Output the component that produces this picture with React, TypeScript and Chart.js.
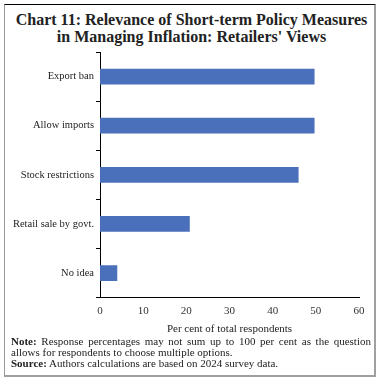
import React, { useEffect, useRef } from "react";
import { Chart, registerables } from "chart.js";

Chart.register(...registerables);

const categories = ["Export ban", "Allow imports", "Stock restrictions", "Retail sale by govt.", "No idea"];
const values = [49.7, 49.7, 46.0, 20.8, 4.0];
const xTicks = [0, 10, 20, 30, 40, 50, 60];

const SERIF = "'Liberation Serif', 'DejaVu Serif', serif";

export default function App() {
  const ref = useRef<HTMLCanvasElement | null>(null);

  useEffect(() => {
    document.body.style.margin = "0";
    const ctx = ref.current;
    if (!ctx) return;
    const chart = new Chart(ctx, {
      type: "bar",
      data: {
        labels: categories,
        datasets: [
          {
            data: values,
            backgroundColor: "#4a6fbb",
            borderWidth: 0,
            barPercentage: 0.64,
            categoryPercentage: 0.5,
          },
        ],
      },
      options: {
        indexAxis: "y",
        animation: false,
        responsive: false,
        maintainAspectRatio: false,
        layout: { padding: { left: 0, right: 24, top: 52, bottom: 0 } },
        plugins: { legend: { display: false }, tooltip: { enabled: false } },
        scales: {
          x: {
            min: 0,
            max: 60,
            afterBuildTicks: (s: any) => {
              s.ticks = xTicks.map((v) => ({ value: v }));
            },
            grid: { display: false, drawTicks: true, tickLength: 4, color: "#000" },
            border: { display: true, color: "#000", width: 1 },
            ticks: {
              color: "#333",
              font: { family: SERIF, size: 11 },
              padding: 3,
              maxRotation: 0,
            },
            title: {
              display: true,
              text: "Per cent of total respondents",
              color: "#222",
              font: { family: SERIF, size: 11 },
              padding: { top: 2, bottom: 0 },
            },
          },
          y: {
            afterFit: (s: any) => {
              s.width = 100;
            },
            grid: { display: true, drawOnChartArea: false, drawTicks: true, tickLength: 4, color: "#000", offset: true },
            border: { display: true, color: "#000", width: 1 },
            ticks: {
              color: "#222",
              font: { family: SERIF, size: 10.5 },
              padding: 2,
            },
          },
        },
      },
    });
    return () => chart.destroy();
  }, []);

  return (
    <div style={{ position: "relative", width: 383, height: 383, background: "#fff", overflow: "hidden" }}>
      <div
        style={{
          position: "absolute",
          left: 4,
          top: 4,
          width: 372,
          height: 373,
          borderLeft: "1px solid #999",
          borderTop: "1px solid #000",
          borderRight: "2px solid #a0a0a0",
          borderBottom: "2px solid #a0a0a0",
          boxSizing: "border-box",
        }}
      />
      <div
        style={{
          position: "absolute",
          left: 0,
          top: 11,
          width: 383,
          textAlign: "center",
          fontFamily: SERIF,
          fontWeight: "bold",
          fontSize: 16,
          lineHeight: "17px",
          color: "#222",
        }}
      >
        Chart 11: Relevance of Short-term Policy Measures
        <br />
        in Managing Inflation: Retailers' Views
      </div>
      <canvas ref={ref} width={383} height={336} style={{ position: "absolute", left: 0, top: 0 }} />
      <div
        style={{
          position: "absolute",
          left: 11,
          top: 336,
          width: 360,
          fontFamily: SERIF,
          fontSize: 11,
          lineHeight: "11px",
          color: "#222",
          textAlign: "justify",
        }}
      >
        <b>Note:</b> Response percentages may not sum up to 100 per cent as the question
        allows for respondents to choose multiple options.
        <br />
        <b>Source:</b> Authors calculations are based on 2024 survey data.
      </div>
    </div>
  );
}
